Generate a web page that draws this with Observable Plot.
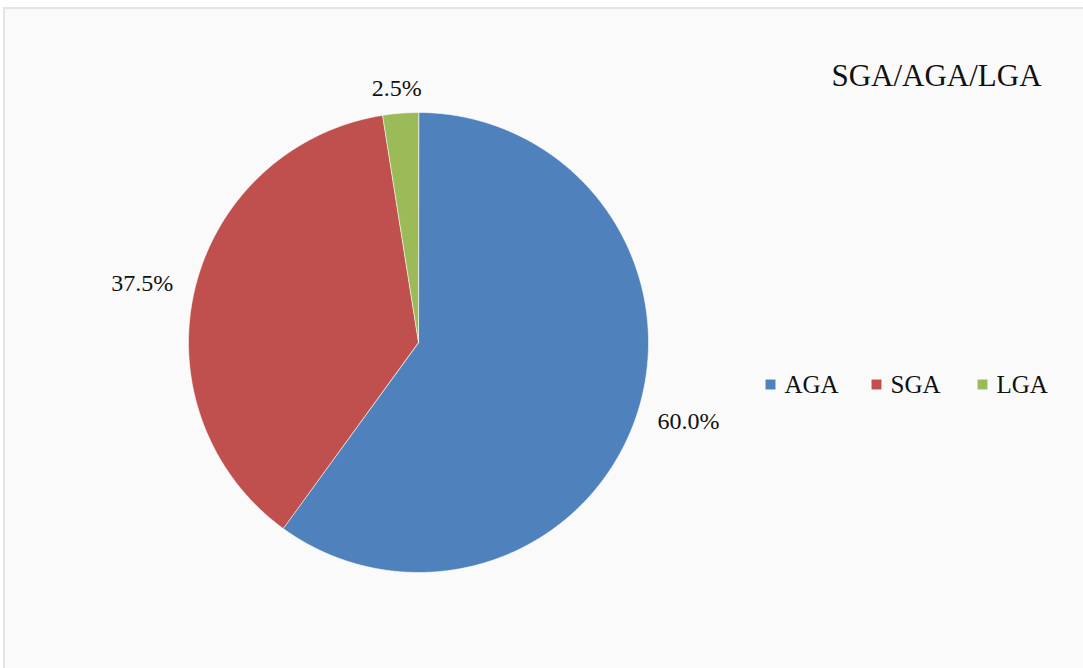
<!DOCTYPE html>
<html><head><meta charset="utf-8">
<script src="https://cdn.jsdelivr.net/npm/d3@7"></script>
<script src="https://cdn.jsdelivr.net/npm/@observablehq/plot@0.6"></script>
<style>
body{margin:0;background:#fff;overflow:hidden;}
#frame{position:absolute;left:3px;top:7px;width:1100px;height:680px;border-left:2px solid #e4e4e4;border-top:2px solid #e4e4e4;background:#fafafa;}
#chart{position:absolute;left:0;top:0;}
#chart text{font-family:'Liberation Serif','Times New Roman',serif;}
</style></head><body><div id="frame"></div><div id="chart"></div>
<script>
const categories = ["AGA", "SGA", "LGA"];
const values = [60.0, 37.5, 2.5];
const labels = ["60.0%", "37.5%", "2.5%"];
const colors = ["#4F81BD", "#C0504D", "#9BBB59"];
const title = "SGA/AGA/LGA";

const W = 1083, H = 668, cx = 418, cy = 342, R = 230, pad = 23;
const font = "Liberation Serif";
const rows = categories.map((c, i) => ({category: c, value: values[i], label: labels[i]}));
const arcs = d3.pie().sort(null).value(d => d.value)(rows);
const pt = (a, r) => [cx + r * Math.sin(a), cy - r * Math.cos(a)];

const slices = arcs.map(p => {
  const n = Math.max(2, Math.ceil((p.endAngle - p.startAngle) / 0.005));
  const ring = [[cx, cy]];
  for (let k = 0; k <= n; k++) ring.push(pt(p.startAngle + (p.endAngle - p.startAngle) * k / n, R));
  ring.push([cx, cy]);
  return {type: "Feature", properties: {category: p.data.category}, geometry: {type: "Polygon", coordinates: [ring]}};
});

const ctx = document.createElement("canvas").getContext("2d");
ctx.font = "24px 'Liberation Serif'";
const labelData = arcs.map(p => {
  const a = (p.startAngle + p.endAngle) / 2;
  const w = ctx.measureText(p.data.label).width, h = 4;
  const [ax, ay] = pt(a, R + pad);
  return {x: ax + Math.sin(a) * w / 2, y: ay - Math.cos(a) * h / 2, text: p.data.label};
});

const legendData = categories.map((c, i) => ({category: c, x: 770 + i * 106, y: 384}));

const chart = Plot.plot({
  width: W, height: H, margin: 0,
  projection: {type: "identity"},
  color: {domain: categories, range: colors},
  style: {background: "transparent", fontFamily: font},
  marks: [
    Plot.geo(slices, {fill: d => d.properties.category, stroke: "white", strokeWidth: 1, strokeOpacity: 0.6}),
    Plot.text(labelData, {x: "x", y: "y", text: "text", fontSize: 24, fontFamily: font, fill: "#111", textAnchor: "middle", lineAnchor: "middle"}),
    Plot.text([title], {x: () => 936, y: () => 76, text: d => d, fontSize: 31, fontFamily: font, fill: "#111", textAnchor: "middle", lineAnchor: "middle"}),
    Plot.dot(legendData, {x: "x", y: "y", symbol: "square", r: 5.6, fill: "category", stroke: null}),
    Plot.text(legendData, {x: d => d.x + 14, y: "y", text: "category", fontSize: 25, fontFamily: font, fill: "#111", textAnchor: "start", lineAnchor: "middle"})
  ]
});
document.getElementById("chart").appendChild(chart);
</script></body></html>
